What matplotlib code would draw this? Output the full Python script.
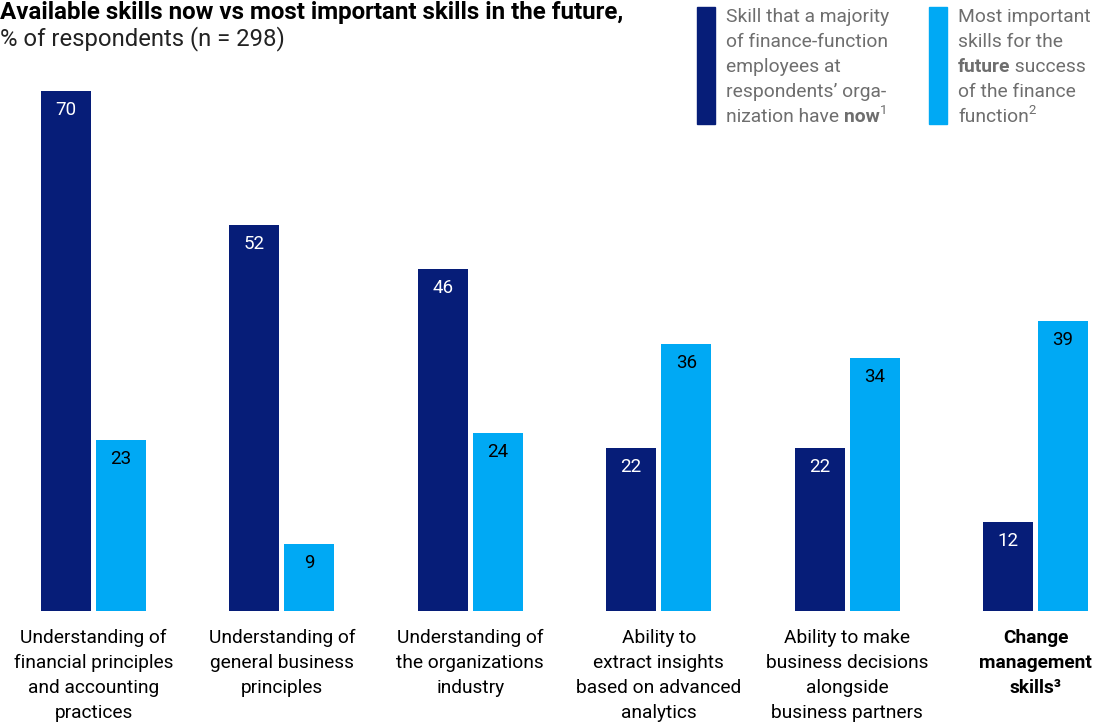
import matplotlib
matplotlib.use("Agg")
import matplotlib.pyplot as plt
from matplotlib.patches import Rectangle

categories = [
    "Understanding of\nfinancial principles\nand accounting\npractices",
    "Understanding of\ngeneral business\nprinciples",
    "Understanding of\nthe organizations\nindustry",
    "Ability to\nextract insights\nbased on advanced\nanalytics",
    "Ability to make\nbusiness decisions\nalongside\nbusiness partners",
    "Change\nmanagement\nskills³",
]
now_values = [70, 52, 46, 22, 22, 12]
future_values = [23, 9, 24, 36, 34, 39]

DARK = "#061D78"
LIGHT = "#00A9F4"
GRAY = "#6E6E6E"
FONT = ["Roboto", "DejaVu Sans"]

W, H = 1110, 723
fig = plt.figure(figsize=(W / 100, H / 100), dpi=100)

def fx(x):
    return x / W

def fy(y):
    return 1 - y / H

# axes: x from 41 to 1088 px, baseline at 611 px, value 70 at 91 px
ax = fig.add_axes([fx(41), fy(611), fx(1088) - fx(41), fy(91) - fy(611)])
spacing = 188.4
bw = 50 / spacing
off = 27.5 / spacing
xs = list(range(len(categories)))
ax.bar([x - off for x in xs], now_values, width=bw, color=DARK)
ax.bar([x + off for x in xs], future_values, width=bw, color=LIGHT)
ax.set_xlim(-52.5 / spacing, 5 + 52.5 / spacing)
ax.set_ylim(0, 70)
ax.axis("off")

px_per_unit = 520 / 70
for x, v in zip(xs, now_values):
    ax.text(x - off, v - 19 / px_per_unit, str(v), ha="center", va="center",
            color="white", fontsize=13.5, family=FONT)
for x, v in zip(xs, future_values):
    ax.text(x + off, v - 19 / px_per_unit, str(v), ha="center", va="center",
            color="black", fontsize=13.5, family=FONT)

for i, (x, lab) in enumerate(zip(xs, categories)):
    ax.text(x, -18 / 520, lab, transform=ax.get_xaxis_transform(), ha="center", va="top",
            fontsize=13.8, family=FONT, linespacing=1.5,
            fontweight="bold" if i == len(categories) - 1 else "normal",
            color="black")

# title
fig.text(fx(0), fy(19), "Available skills now vs most important skills in the future,",
         ha="left", va="baseline", fontsize=17.4, fontweight="bold", family=FONT)
fig.text(fx(0), fy(45), "% of respondents (n = 298)", ha="left", va="baseline",
         fontsize=17.2, family=FONT, color="#222222")

# legend
fig.patches.append(Rectangle((fx(697), fy(124)), fx(18), fy(7) - fy(124),
                             transform=fig.transFigure, color=DARK))
fig.patches.append(Rectangle((fx(929), fy(124)), fx(18), fy(7) - fy(124),
                             transform=fig.transFigure, color=LIGHT))

renderer = fig.canvas.get_renderer()

def seg_line(x0, ybase, pieces):
    x = x0
    for txt, bold, sup in pieces:
        size = 9.5 if sup else 13.9
        yb = ybase - (8 if sup else 0)
        t = fig.text(fx(x), fy(yb), txt, ha="left", va="baseline", fontsize=size,
                     fontweight="bold" if bold else "normal", family=FONT, color=GRAY)
        bb = t.get_window_extent(renderer=renderer)
        x += bb.width

leg1 = [
    [("Skill that a majority", False, False)],
    [("of finance-function", False, False)],
    [("employees at", False, False)],
    [("respondents\u2019 orga-", False, False)],
    [("nization have ", False, False), ("now", True, False), ("1", False, True)],
]
leg2 = [
    [("Most important", False, False)],
    [("skills for the", False, False)],
    [("future", True, False), (" success", False, False)],
    [("of the finance", False, False)],
    [("function", False, False), ("2", False, True)],
]
for i, line in enumerate(leg1):
    seg_line(726, 22 + 25 * i, line)
for i, line in enumerate(leg2):
    seg_line(958, 22 + 25 * i, line)

fig.savefig("out.png", dpi=100)
